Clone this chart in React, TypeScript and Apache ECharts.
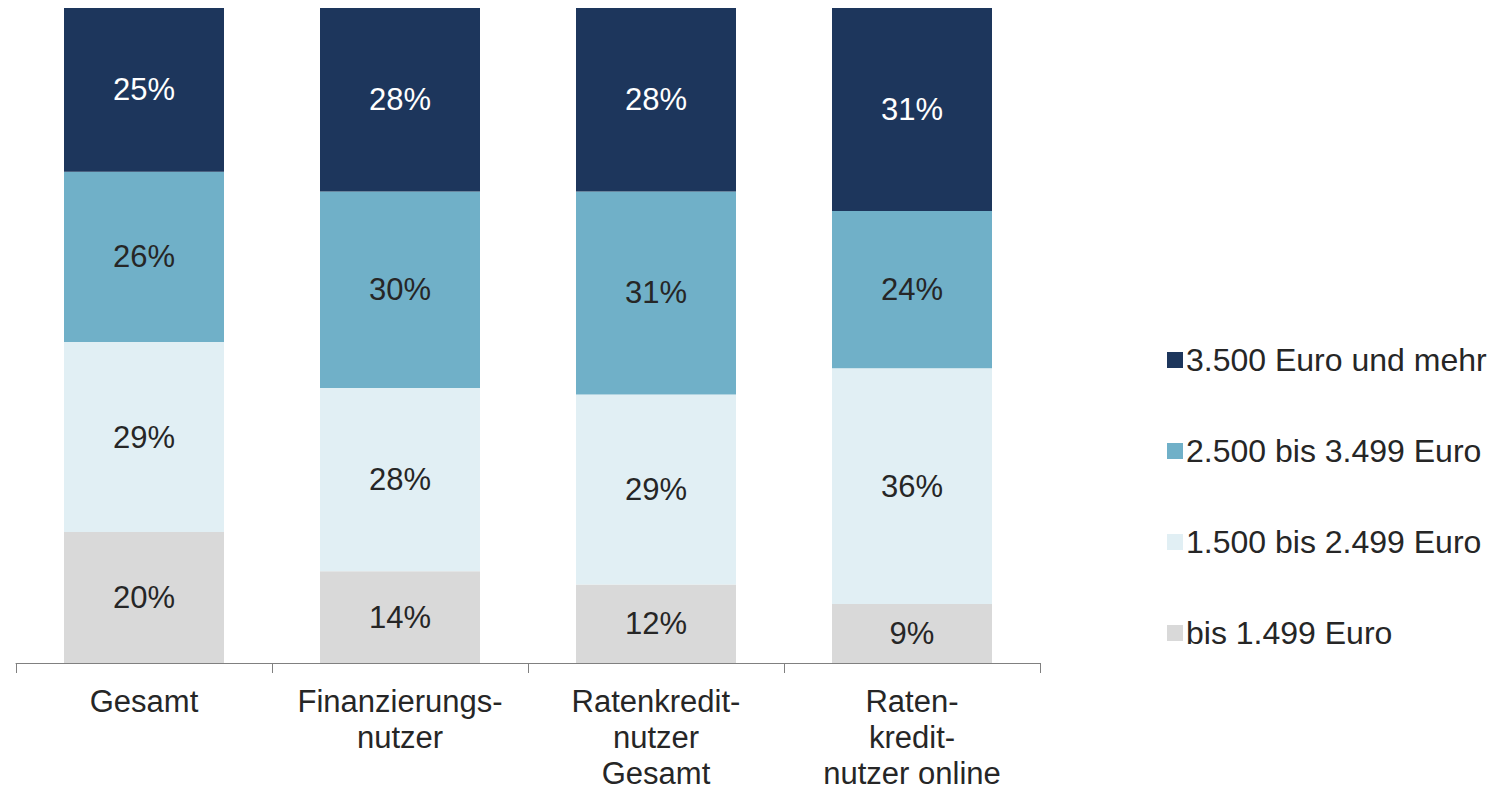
import React, { useEffect, useRef } from "react";
import * as echarts from "echarts";

const categories = [
  "Gesamt",
  "Finanzierungs-\nnutzer",
  "Ratenkredit-\nnutzer\nGesamt",
  "Raten-\nkredit-\nnutzer online",
];
const seriesNames = [
  "bis 1.499 Euro",
  "1.500 bis 2.499 Euro",
  "2.500 bis 3.499 Euro",
  "3.500 Euro und mehr",
];
const bis1499 = [20, 14, 12, 9];
const von1500 = [29, 28, 29, 36];
const von2500 = [26, 30, 31, 24];
const ab3500 = [25, 28, 28, 31];
const seriesValues = [bis1499, von1500, von2500, ab3500];
const colors = ["#d9d9d9", "#e1eff4", "#70b0c8", "#1d365c"];
const labelColors = ["#262626", "#262626", "#262626", "#ffffff"];

const FONT = "'Liberation Sans', Arial, sans-serif";

export default function App() {
  const ref = useRef<HTMLDivElement>(null);
  useEffect(() => {
    if (!ref.current) return;
    const chart = echarts.init(ref.current, undefined, { renderer: "svg" });
    chart.setOption({
      animation: false,
      grid: { left: 16, right: 451, top: 8, bottom: 129, containLabel: false },
      legend: {
        orient: "vertical",
        left: 1162,
        top: 339,
        itemWidth: 16,
        itemHeight: 16,
        itemGap: 59,
        icon: "rect",
        data: [...seriesNames].reverse(),
        textStyle: {
          fontFamily: FONT,
          fontSize: 32,
          color: "#262626",
          padding: [0, 0, 0, -2],
          lineHeight: 32,
        },
      },
      xAxis: {
        type: "category",
        data: categories,
        boundaryGap: true,
        axisLine: { lineStyle: { color: "#808080", width: 1 } },
        axisTick: { show: true, length: 10, lineStyle: { color: "#808080" } },
        axisLabel: {
          interval: 0,
          margin: 20,
          fontFamily: FONT,
          fontSize: 31,
          lineHeight: 36,
          color: "#262626",
        },
      },
      yAxis: {
        type: "value",
        min: 0,
        max: 100,
        show: false,
        splitLine: { show: false },
      },
      series: seriesNames.map((name, i) => ({
        name,
        type: "bar",
        stack: "total",
        barWidth: "62.5%",
        data: seriesValues[i],
        itemStyle: { color: colors[i] },
        label: {
          show: true,
          position: "inside",
          formatter: "{c}%",
          fontFamily: FONT,
          fontSize: 31,
          color: labelColors[i],
        },
      })),
    });
    return () => chart.dispose();
  }, []);
  return (
    <div
      ref={ref}
      style={{ position: "fixed", left: 0, top: 0, width: 1491, height: 792, background: "#fff" }}
    />
  );
}
